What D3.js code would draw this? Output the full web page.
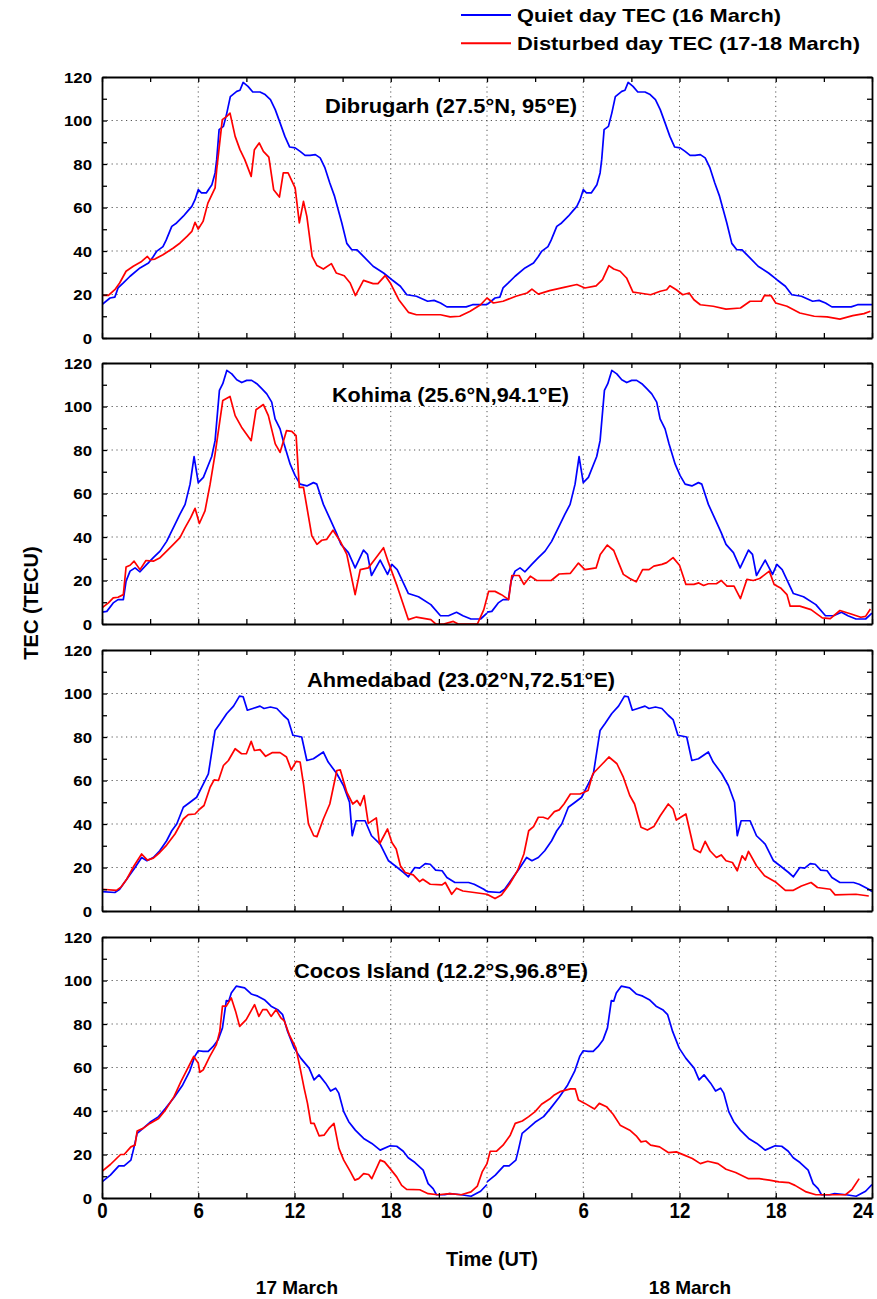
<!DOCTYPE html>
<html>
<head>
<meta charset="utf-8">
<script src="https://cdn.jsdelivr.net/npm/d3@7"></script>
<style>
  html, body { margin: 0; padding: 0; background: #fff; }
  svg { display: block; font-family: "Liberation Sans", Arial, sans-serif; font-weight: bold; }
</style>
</head>
<body>
<svg id="chart" width="877" height="1299"></svg>
<script>
// ---- Data: [hour UT, TEC (TECU)] ----
// Quiet-day curves cover one day (16 March) and are drawn under both 17 and 18 March.
const dibrugarhQuiet = [[0,15.3],[0.5,18.4],[0.8,18.8],[1.0,23],[1.33,25.3],[1.75,28.4],[2.37,32.2],[2.9,34.5],[3.2,37.5],[3.4,39.8],[3.8,42],[4.0,45],[4.35,51.3],[4.65,52.9],[5.07,56],[5.3,58],[5.6,60.5],[5.8,63.6],[6.0,68.2],[6.2,66.7],[6.5,66.7],[6.85,70.5],[7.05,75.9],[7.15,82],[7.3,95.8],[7.57,97.3],[7.78,103.4],[8.0,111],[8.4,113.4],[8.6,113.9],[8.8,117.5],[9.1,115.7],[9.4,113.1],[9.85,113.1],[10.17,111.9],[10.5,109.6],[10.8,105],[11.1,98.9],[11.4,92.7],[11.7,87.8],[12.04,87.4],[12.35,85.8],[12.66,84],[12.97,84],[13.3,84.3],[13.6,82.8],[13.9,78.2],[14.2,71.3],[14.5,65.1],[14.95,52.9],[15.26,43.5],[15.57,40.6],[15.9,40.5],[16.3,37.5],[16.9,33],[17.55,29.9],[18.07,26.8],[18.6,23.8],[19.0,19.9],[19.6,19.2],[20.3,16.9],[20.7,17.3],[21.1,16.1],[21.5,14.3],[22.7,14.3],[23.1,15.3],[24,15.3]];
const dibrugarhDisturbed = [[0,19.6],[0.4,19.6],[0.8,22.2],[1.1,25.3],[1.5,30.7],[1.95,33],[2.47,35.2],[2.83,37.5],[3.0,36],[3.3,36.3],[3.8,38.3],[4.45,41.4],[4.87,43.7],[5.3,46.7],[5.6,49],[5.8,53.2],[6.0,50.1],[6.3,53.6],[6.6,62],[7.05,69],[7.15,77.4],[7.5,100.4],[7.78,101.9],[7.98,103.4],[8.3,92.7],[8.6,86.6],[8.9,82],[9.3,74.3],[9.5,86.6],[9.8,89.7],[10.06,85.8],[10.4,83.2],[10.7,68.2],[11.06,64.8],[11.3,75.9],[11.6,75.9],[12.04,69],[12.3,52.9],[12.56,62.8],[12.77,55.9],[13.1,37.5],[13.4,33.3],[13.8,31.7],[14.3,34.2],[14.6,29.9],[15.1,28.6],[15.47,25.3],[15.8,19.5],[16.3,26.5],[16.9,25],[17.2,25],[17.65,28.7],[17.97,25.3],[18.5,17.6],[19.1,11.8],[19.6,10.7],[21.1,10.7],[21.7,9.7],[22.3,10],[22.95,12.3],[23.6,15.3],[24.0,18.4],[24.4,16.1],[25.0,16.9],[25.8,19.2],[26.5,20.7],[26.8,22.5],[27.2,20.2],[27.9,21.8],[28.8,23.3],[29.6,24.6],[30.1,23],[30.8,24],[31.2,26.8],[31.6,33.3],[31.9,31.7],[32.3,30.7],[32.7,27.6],[33.1,21.1],[33.5,20.7],[34.2,19.9],[34.8,21.5],[35.2,22.2],[35.4,24],[35.8,22.2],[36.2,19.9],[36.6,20.7],[36.9,17.6],[37.3,15.3],[38.1,14.6],[38.9,13.3],[39.8,13.8],[40.4,16.9],[41.1,16.9],[41.3,19.6],[41.7,19.5],[42.0,16.1],[42.7,14.6],[43.5,11.5],[44.4,10],[45.2,9.7],[46.0,8.7],[46.8,10.3],[47.5,11.2],[47.9,12.3]];

const kohimaQuiet = [[0,5.5],[0.3,5.8],[0.7,9.7],[1.0,11.2],[1.33,11.2],[1.5,19.7],[1.75,24.3],[2.06,25.8],[2.37,24],[2.79,27.4],[3.2,30.5],[3.62,33.5],[4.03,38],[4.55,45.8],[4.86,50.5],[5.18,55],[5.49,64.3],[5.74,77],[6.0,65],[6.32,67.4],[6.84,77],[7.05,84.3],[7.32,107.4],[7.53,110.5],[7.78,116.6],[8.09,115],[8.4,112.3],[8.71,111],[9.02,112],[9.33,112],[9.65,110.5],[9.96,108.2],[10.27,105.8],[10.58,102],[10.79,94.3],[11.1,89.7],[11.35,82.8],[11.73,73.5],[12.04,68.2],[12.35,64.3],[12.77,63.5],[13.18,65],[13.39,64.3],[13.8,55],[14.22,48.2],[14.6,42],[14.9,36.6],[15.36,32.8],[15.78,25.8],[16.3,34],[16.55,32],[16.8,22.3],[17.34,29.4],[17.8,22.8],[18.07,27.4],[18.4,25],[19.1,14],[19.73,12.5],[20.5,8.9],[21.1,3.8],[21.6,3.8],[22.1,5.4],[22.5,3.8],[23.0,2.3],[23.6,2.3],[24,5]];
const kohimaDisturbed = [[0,7.4],[0.4,9.7],[0.7,12],[1.0,12.3],[1.33,13.5],[1.5,26.2],[1.75,27],[2.0,28.9],[2.37,25],[2.74,29.2],[3.2,28.9],[3.62,30.5],[4.03,33.5],[4.45,36.6],[4.86,39.7],[5.18,44.3],[5.53,48.9],[5.8,53.2],[6.07,46.2],[6.42,52],[6.74,64.3],[7.05,78.2],[7.53,102.8],[7.98,104.6],[8.3,95.8],[8.7,90.5],[9.3,84.3],[9.6,98.5],[10.06,100.9],[10.37,95.8],[10.8,82.8],[11.1,78.9],[11.5,88.9],[11.83,88.6],[12.1,86.6],[12.3,62.8],[12.56,62.8],[13.08,40.5],[13.4,36.6],[13.7,38.5],[14.0,38.9],[14.4,43.1],[14.84,38.2],[15.26,32],[15.78,13.5],[16.1,25],[16.6,25.8],[17.0,29.7],[17.55,35.1],[17.86,28.2],[18.4,17.4],[19.1,2],[19.6,3.2],[20.5,2],[20.8,0],[21.3,0],[21.9,1.2],[22.2,0],[23.4,0],[23.8,6.6],[24.1,15],[24.5,15],[24.9,13.5],[25.35,11.2],[25.55,22.3],[26.0,22.3],[26.3,18.2],[26.7,22],[27.1,20],[28.0,20],[28.5,23],[29.2,23.3],[29.7,28],[30.1,25],[30.8,25.8],[31.06,32],[31.5,36.3],[31.9,33.8],[32.2,28.2],[32.5,22.8],[32.9,20.9],[33.3,19.4],[33.7,25],[34.1,25],[34.4,26.6],[34.9,27.4],[35.2,28.2],[35.6,30.5],[36.0,27],[36.4,18.2],[36.9,18.2],[37.2,18.9],[37.5,17.7],[37.8,18.5],[38.3,18.5],[38.6,20],[38.96,17.4],[39.4,17.4],[39.8,11.7],[40.2,20.5],[40.6,20],[41.0,20.9],[41.6,24.3],[41.9,18.2],[42.3,16.6],[42.7,13.5],[42.9,8.2],[43.5,8.2],[44.2,6.6],[44.9,2.8],[45.4,2.5],[46.0,6.2],[46.7,4.6],[47.3,3.1],[47.6,3.5],[47.9,6.9]];

const ahmedabadQuiet = [[0,8.9],[0.8,8.5],[1.1,10],[1.54,14.6],[2.06,20],[2.47,24.6],[2.8,23.1],[3.2,24.6],[3.6,27.7],[4.03,32.3],[4.35,36.9],[4.66,40],[5.07,47.7],[5.49,50],[5.9,52.3],[6.32,58.5],[6.63,63],[7.05,83],[7.36,86.2],[7.78,90.8],[8.2,94.2],[8.57,98.8],[8.8,98.5],[9.06,92.3],[9.4,93.1],[9.85,94.2],[10.1,93.1],[10.5,93.8],[10.9,93.1],[11.3,90],[11.6,88],[11.9,80.8],[12.45,80],[12.77,69.2],[13.18,70],[13.8,73.1],[14.1,68.5],[14.64,63.1],[15.05,57.7],[15.43,50],[15.6,34.6],[15.84,41.5],[16.4,41.5],[16.8,34.6],[17.34,30.8],[17.86,23.1],[18.27,20.8],[18.8,17.7],[19.1,15.7],[19.5,20],[19.8,19.7],[20.15,21.8],[20.46,21.5],[20.8,18.8],[21.2,18.5],[21.5,15.4],[22.0,13.1],[22.85,13.1],[23.2,12.3],[23.8,10],[24,9]];
const ahmedabadDisturbed = [[0,10],[0.9,9.5],[1.2,11.1],[1.54,14.6],[2.0,20.8],[2.47,26.2],[2.83,23.4],[3.2,24.3],[3.6,26.9],[4.03,30.3],[4.55,35.4],[5.07,42.3],[5.38,44.3],[5.8,44.6],[6.1,46.9],[6.36,48.5],[6.74,56.9],[6.99,60.3],[7.26,60],[7.57,66.9],[7.88,69.2],[8.3,74.6],[8.7,72.3],[9.0,72.3],[9.3,78],[9.5,73.8],[9.85,74.2],[10.2,71.1],[10.6,72.8],[11.1,72.8],[11.5,70.8],[11.8,64.9],[12.1,68.8],[12.35,68.5],[12.56,58.5],[12.87,40],[13.2,34.6],[13.4,34.2],[13.8,42.3],[14.2,49.2],[14.64,64.6],[14.85,64.9],[15.26,54.6],[15.63,49.2],[15.9,50.8],[16.1,48.5],[16.34,53.1],[16.6,40.3],[17.1,42.8],[17.3,30.8],[17.8,37.7],[18.07,31.5],[18.34,28.5],[18.6,20.8],[18.9,17.7],[19.4,16.6],[19.8,13.5],[20.0,14.6],[20.46,12.3],[21.2,12],[21.4,13.1],[21.8,7.7],[22.1,10.5],[22.5,9.2],[23.2,8.5],[24.0,7.7],[24.5,5.7],[24.9,7.4],[25.4,12.3],[25.9,18.5],[26.3,26.2],[26.6,36.9],[26.9,38.8],[27.2,43.1],[27.5,43.1],[27.8,42.3],[28.2,45.7],[28.5,46.5],[28.8,49.2],[29.2,53.8],[29.8,53.8],[30.3,55.4],[30.6,63.1],[31.2,67.7],[31.6,70.8],[32.1,67.7],[32.5,61.5],[32.9,53.1],[33.2,49.2],[33.6,38.5],[34.0,37.2],[34.4,38.8],[34.8,43.8],[35.3,49.2],[35.6,46.9],[35.8,41.8],[36.4,44.6],[36.9,28.5],[37.3,26.9],[37.6,32],[37.9,27.7],[38.3,24.6],[38.6,25.8],[38.9,23.1],[39.3,22.3],[39.6,18.5],[39.9,25.4],[40.1,23.4],[40.3,27.4],[40.8,20.8],[41.3,16.2],[41.96,13.5],[42.6,9.5],[43.1,9.5],[43.6,11.5],[44.2,13.1],[44.6,10.8],[45.4,10],[45.7,7.4],[47.0,7.7],[47.8,6.9]];

const cocosQuiet = [[0,7.4],[0.52,10.5],[1.05,14.8],[1.38,14.8],[1.8,17.4],[1.98,22.8],[2.19,29.7],[2.56,32],[2.99,34.8],[3.53,37.4],[3.96,41.2],[4.49,46.2],[5.03,52],[5.46,58.2],[5.78,65.1],[6.0,67.7],[6.31,67.4],[6.62,67.4],[6.93,69.7],[7.24,72.8],[7.51,78.2],[7.75,90.8],[7.9,90.5],[8.06,94.3],[8.37,97.4],[8.89,96.6],[9.3,93.8],[9.71,92.8],[10.12,91.2],[10.54,88.2],[10.95,86.6],[11.26,84.3],[11.57,76.6],[11.98,68.9],[12.39,64.3],[12.91,59.7],[13.22,54.3],[13.53,56.6],[13.94,52.8],[14.25,49.2],[14.56,50.5],[14.76,48.2],[15.07,39.7],[15.38,35.1],[15.79,31.2],[16.31,27.4],[16.82,25.1],[17.34,22],[17.96,24],[18.37,23.8],[18.78,21.5],[19.09,18.5],[19.51,16.3],[20.02,12.8],[20.33,6.6],[20.64,4.3],[20.85,1.5],[21.36,1.5],[21.67,2],[22.39,1.5],[23.01,0.8],[23.6,3.1],[24,6.2]];
const cocosDisturbed = [[0,12.3],[0.52,15.4],[1.16,20],[1.38,20],[1.8,23.5],[2.06,24.3],[2.19,30.8],[2.56,32],[2.99,34.3],[3.53,36.6],[3.96,40.5],[4.49,46.6],[4.92,53.5],[5.35,59.7],[5.72,65.1],[6.0,62],[6.1,57.8],[6.31,58.9],[6.72,65.1],[7.13,70.5],[7.34,76.6],[7.51,88.2],[7.75,88.2],[8.06,92],[8.33,85.8],[8.58,78.9],[8.99,82],[9.51,88.9],[9.78,83.5],[10.02,86.6],[10.27,86.6],[10.54,83.5],[10.85,86.6],[11.15,82.8],[11.36,81.5],[11.67,75.1],[12.09,68.9],[12.33,60.5],[12.6,50.5],[12.81,43.5],[13.02,34.3],[13.22,34.3],[13.53,28.6],[13.84,28.9],[14.15,32],[14.46,34.3],[14.77,22.8],[15.07,17.4],[15.49,12],[15.76,8.2],[16.0,8.9],[16.31,11.2],[16.62,10.8],[16.82,8.9],[17.34,17.4],[17.61,16.6],[17.96,13.5],[18.37,9.7],[18.68,5.8],[18.99,4],[19.81,3.8],[20.33,2],[20.95,1.5],[21.67,2],[22.39,1.5],[23.0,2.8],[23.4,5.5],[23.7,12],[24.0,15.8],[24.2,21.5],[24.6,21.5],[25.0,24.3],[25.45,28.9],[25.76,34.3],[26.2,35.4],[26.6,37.4],[27.0,39.7],[27.4,43.1],[27.9,45.5],[28.2,47.4],[28.55,48.9],[29.2,50.2],[29.5,50.2],[29.7,45.1],[30.1,43.5],[30.7,40.9],[31.0,43.5],[31.45,42],[31.86,38.5],[32.3,33.5],[32.9,31.2],[33.3,28.6],[33.6,25.8],[33.9,26.2],[34.2,24.3],[34.76,23.5],[35.3,20.9],[35.8,21.2],[36.3,19.7],[36.8,18.2],[37.3,15.8],[37.76,16.9],[38.4,15.8],[38.9,13.2],[39.5,11.7],[40.3,8.9],[40.97,8.9],[41.6,8.2],[42.2,7.4],[42.8,7.1],[43.2,5.8],[43.9,2.8],[44.5,1.5],[45.5,1.5],[46.35,1.5],[46.76,4],[47.2,8.9]];

const stationNames = ["Dibrugarh (27.5°N, 95°E)", "Kohima (25.6°N,94.1°E)", "Ahmedabad (23.02°N,72.51°E)", "Cocos Island (12.2°S,96.8°E)"];
const quietSeries = [dibrugarhQuiet, kohimaQuiet, ahmedabadQuiet, cocosQuiet];
const disturbedSeries = [dibrugarhDisturbed, kohimaDisturbed, ahmedabadDisturbed, cocosDisturbed];
const quietDayOffsets = [0, 24];

const xTickValues = [0, 6, 12, 18, 24, 30, 36, 42, 48];
const xTickLabels = ["0", "6", "12", "18", "0", "6", "12", "18", "24"];
const yTickValues = [0, 20, 40, 60, 80, 100, 120];
const dayLabels = ["17 March", "18 March"];
const legendLabels = ["Quiet day TEC (16 March)", "Disturbed day TEC (17-18 March)"];
const xAxisTitle = "Time (UT)";
const yAxisTitle = "TEC (TECU)";

// ---- Layout ----
const W = 877, H = 1299;
const plotLeft = 102, plotRight = 872;
const panelTops = [77, 363, 650, 937];
const panelH = 261;
const titleStart = [325, 332, 307, 294];
const titleWidth = [252, 237, 308, 294];
const titleBaseline = [36, 39, 37, 40.5];
const QUIET = "#0000ff", DISTURBED = "#ff0000";

const svg = d3.select("#chart");
svg.append("rect").attr("width", W).attr("height", H).attr("fill", "#fff");

const x = d3.scaleLinear().domain([0, 48]).range([plotLeft, plotRight]);

// widen glyph runs horizontally by factor k
function stretch(sel, k) {
  sel.each(function () {
    const w = this.getComputedTextLength();
    d3.select(this).attr("textLength", w * k).attr("lengthAdjust", "spacingAndGlyphs");
  });
}

panelTops.forEach((top, i) => {
  const y = d3.scaleLinear().domain([0, 120]).range([top + panelH, top]);
  const g = svg.append("g");

  const clipId = "plotClip" + i;
  svg.append("clipPath").attr("id", clipId)
    .append("rect").attr("x", plotLeft).attr("y", top)
    .attr("width", plotRight - plotLeft).attr("height", panelH);

  // dotted grid
  const grid = g.append("g").attr("stroke", "#555").attr("stroke-width", 1)
    .attr("stroke-dasharray", "1.2,3.6");
  grid.selectAll(".gx").data(xTickValues.slice(1, -1)).join("line")
    .attr("x1", d => x(d)).attr("x2", d => x(d))
    .attr("y1", top).attr("y2", top + panelH);
  grid.selectAll(".gy").data(yTickValues.slice(1, -1)).join("line")
    .attr("x1", plotLeft).attr("x2", plotRight)
    .attr("y1", d => y(d)).attr("y2", d => y(d));

  // TEC curves
  const line = d3.line().x(d => x(d[0])).y(d => y(d[1]));
  const plot = g.append("g").attr("clip-path", `url(#${clipId})`)
    .attr("fill", "none").attr("stroke-width", 1.7).attr("stroke-linejoin", "round");
  quietDayOffsets.forEach(off => {
    plot.append("path")
      .datum(quietSeries[i].map(d => [d[0] + off, d[1]]))
      .attr("stroke", QUIET).attr("d", line);
  });
  plot.append("path").datum(disturbedSeries[i])
    .attr("stroke", DISTURBED).attr("d", line);

  // frame with inward ticks on all four sides
  const minorX = d3.range(0, 49, 3);
  const minorY = d3.range(0, 121, 10);
  const styleAxis = sel => {
    sel.select(".domain").attr("stroke", "#000").attr("stroke-width", 1.8);
    sel.selectAll(".tick line").attr("stroke", "#000").attr("stroke-width", 1.3);
  };
  g.append("g").attr("transform", `translate(0,${top + panelH})`)
    .call(d3.axisBottom(x).tickValues(minorX).tickSizeInner(-5).tickSizeOuter(0).tickFormat(""))
    .call(styleAxis);
  g.append("g").attr("transform", `translate(0,${top})`)
    .call(d3.axisTop(x).tickValues(minorX).tickSizeInner(-5).tickSizeOuter(0).tickFormat(""))
    .call(styleAxis);
  g.append("g").attr("transform", `translate(${plotRight},0)`)
    .call(d3.axisRight(y).tickValues(minorY).tickSizeInner(-5).tickSizeOuter(0).tickFormat(""))
    .call(styleAxis);
  const yAxis = g.append("g").attr("transform", `translate(${plotLeft},0)`)
    .call(d3.axisLeft(y).tickValues(minorY).tickSizeInner(-5).tickSizeOuter(0).tickPadding(10)
      .tickFormat(d => yTickValues.includes(d) ? String(d) : ""))
    .call(styleAxis);
  yAxis.selectAll(".tick text")
    .attr("font-family", "'Liberation Sans', Arial, sans-serif")
    .attr("font-weight", "bold").attr("font-size", 14).attr("fill", "#000")
    .attr("dy", "0.36em")
    .call(stretch, 1.2);

  // station title
  g.append("text")
    .attr("x", titleStart[i]).attr("y", top + titleBaseline[i])
    .attr("font-size", 20).attr("fill", "#000")
    .attr("textLength", titleWidth[i]).attr("lengthAdjust", "spacingAndGlyphs")
    .text(stationNames[i]);

  // hour labels below the last panel
  if (i === panelTops.length - 1) {
    const xl = g.append("g").attr("transform", `translate(0,${top + panelH})`)
      .call(d3.axisBottom(x).tickValues(xTickValues).tickSize(0).tickPadding(4)
        .tickFormat((d, k) => xTickLabels[k]));
    xl.select(".domain").remove();
    xl.selectAll(".tick text")
      .attr("font-family", "'Liberation Sans', Arial, sans-serif")
      .attr("font-weight", "bold").attr("font-size", 22).attr("fill", "#000")
      .attr("dy", "0.72em")
      .call(stretch, 0.85);
    // keep the final label inside the page
    xl.selectAll(".tick text").filter((d, k) => k === xTickValues.length - 1)
      .attr("text-anchor", "end").attr("x", 1);
  }
});

// axis titles and day labels
svg.append("text").attr("x", 492).attr("y", 1266).attr("text-anchor", "middle")
  .attr("font-size", 20).attr("fill", "#000").text(xAxisTitle);
const dayCentres = [297, 690];
svg.selectAll(".day").data(dayLabels).join("text")
  .attr("x", (d, k) => dayCentres[k]).attr("y", 1294).attr("text-anchor", "middle")
  .attr("font-size", 19).attr("fill", "#000").text(d => d);
svg.append("text")
  .attr("transform", "translate(38,603) rotate(-90)").attr("text-anchor", "middle")
  .attr("font-size", 20).attr("fill", "#000").text(yAxisTitle);

// legend
const legend = svg.append("g");
[QUIET, DISTURBED].forEach((c, k) => {
  const ly = 15 + k * 28.3;
  legend.append("line").attr("x1", 461).attr("x2", 511).attr("y1", ly).attr("y2", ly)
    .attr("stroke", c).attr("stroke-width", 2);
  legend.append("text").attr("x", 517).attr("y", ly + 6.7)
    .attr("font-size", 18.5).attr("fill", "#000")
    .attr("textLength", k === 0 ? 264 : 343).attr("lengthAdjust", "spacingAndGlyphs")
    .text(legendLabels[k]);
});
</script>
</body>
</html>
